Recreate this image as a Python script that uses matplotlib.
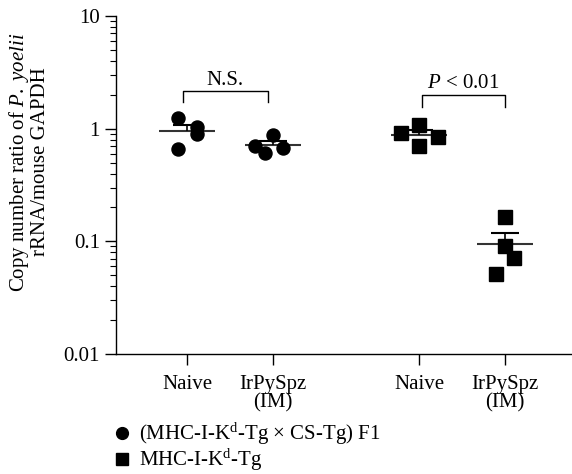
import numpy as np
import matplotlib
matplotlib.use("Agg")
import matplotlib.pyplot as plt
from matplotlib.lines import Line2D
from matplotlib.ticker import LogLocator, NullFormatter, FixedLocator, FixedFormatter

plt.rcParams["font.family"] = ["Liberation Serif", "DejaVu Serif"]
plt.rcParams["mathtext.fontset"] = "custom"
plt.rcParams["mathtext.rm"] = "Liberation Serif"
plt.rcParams["mathtext.it"] = "Liberation Serif:italic"

# data
group_labels = ["Naive", "IrPySpz\n(IM)", "Naive", "IrPySpz\n(IM)"]
group_x = [1.0, 2.0, 3.7, 4.7]
f1_naive = [1.25, 1.04, 0.89, 0.665]
f1_irpyspz = [0.885, 0.697, 0.612, 0.678]
kd_naive = [0.915, 1.085, 0.844, 0.697]
kd_irpyspz = [0.163, 0.0918, 0.0718, 0.0508]
# horizontal spread of the dots inside each column
f1_naive_dx = [-0.105, 0.116, 0.116, -0.105]
f1_irpyspz_dx = [0.0, -0.21, -0.09, 0.116]
kd_naive_dx = [-0.21, 0.0, 0.22, 0.0]
kd_irpyspz_dx = [0.0, 0.0, 0.11, -0.11]
legend_labels = ["(MHC-I-K$^{\\mathrm{d}}$-Tg × CS-Tg) F1", "MHC-I-K$^{\\mathrm{d}}$-Tg"]

groups = [
    (f1_naive, f1_naive_dx, "o"),
    (f1_irpyspz, f1_irpyspz_dx, "o"),
    (kd_naive, kd_naive_dx, "s"),
    (kd_irpyspz, kd_irpyspz_dx, "s"),
]

FS = 15

fig = plt.figure(figsize=(5.72, 4.74), dpi=100)
ax = fig.add_axes([116 / 572, 1 - 354 / 474, 1 - 116 / 572, 338 / 474])

for x0, (vals, dx, mk) in zip(group_x, groups):
    vals = np.array(vals)
    mean = vals.mean()
    sem = vals.std(ddof=1) / np.sqrt(len(vals))
    ax.hlines(mean, x0 - 0.33, x0 + 0.33, color="#333333", lw=1.5, zorder=2)
    ax.vlines(x0, mean, mean + sem, color="black", lw=1.2, zorder=4)
    ax.hlines(mean + sem, x0 - 0.165, x0 + 0.165, color="black", lw=1.5, zorder=4)
    ax.plot(x0 + np.array(dx), vals, ls="none", marker=mk, ms=9.4,
            color="black", mec="black", zorder=3)

ax.set_yscale("log")
ax.set_ylim(0.01, 10)
ax.set_xlim(0.174, 5.48)
ax.yaxis.set_major_locator(FixedLocator([0.01, 0.1, 1, 10]))
ax.yaxis.set_major_formatter(FixedFormatter(["0.01", "0.1", "1", "10"]))
ax.yaxis.set_minor_locator(LogLocator(base=10, subs=np.arange(2, 10), numticks=30))
ax.yaxis.set_minor_formatter(NullFormatter())
ax.set_xticks(group_x)
ax.set_xticklabels(group_labels, linespacing=0.95)
ax.tick_params(axis="both", which="major", length=8, width=1, labelsize=FS, color="black")
ax.tick_params(axis="y", which="minor", length=4, width=0.8)
ax.tick_params(axis="x", pad=7)
for s in ("top", "right"):
    ax.spines[s].set_visible(False)
for s in ("left", "bottom"):
    ax.spines[s].set_linewidth(1)

# significance brackets
def bracket(x1, x2, ytop, ybot, text, ytext):
    ax.plot([x1, x1, x2, x2], [ybot, ytop, ytop, ybot], color="black", lw=1, zorder=5)
    ax.text((x1 + x2) / 2, ytext, text, ha="center", va="baseline", fontsize=FS)

bracket(0.95, 1.94, 2.17, 1.74, "N.S.", 2.45)
bracket(3.73, 4.70, 2.0, 1.57, "$\\it{P}$ < 0.01", 2.31)

fig.text(29 / 572, 1 - 162 / 474,
         "Copy number ratio of $\\it{P.\\ yoelii}$\nrRNA/mouse GAPDH",
         rotation=90, ha="center", va="center", fontsize=FS,
         multialignment="center", linespacing=1.0)

handles = [
    Line2D([], [], ls="none", marker="o", ms=8.5, color="black"),
    Line2D([], [], ls="none", marker="s", ms=8.0, color="black"),
]
fig.legend(handles, legend_labels, loc="upper left",
           bbox_to_anchor=(113 / 572, 1 - 421 / 474), frameon=False,
           fontsize=FS, handletextpad=0.35, labelspacing=0.0,
           handlelength=0.9, borderaxespad=0, borderpad=0)

fig.savefig("out.png", dpi=100)
